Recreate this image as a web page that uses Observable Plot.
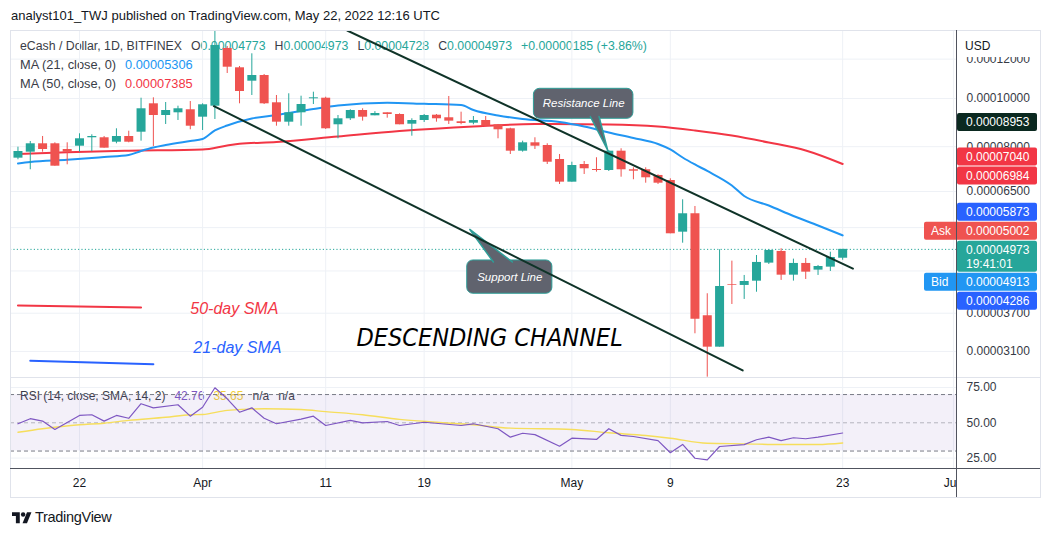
<!DOCTYPE html>
<html><head><meta charset="utf-8">
<script src="https://cdn.jsdelivr.net/npm/d3@7"></script>
<script src="https://cdn.jsdelivr.net/npm/@observablehq/plot@0.6"></script>
<style>
body{margin:0;background:#fff;font-family:"Liberation Sans",Arial,sans-serif;}
#wrap{position:relative;width:1052px;height:536px;overflow:hidden;background:#fff;}
.abs{position:absolute;}
.lg{position:absolute;left:20px;font-size:12.3px;line-height:16px;color:#3a3d47;white-space:nowrap;}
.lg span{margin-left:9px;}
.lg span.n{margin-left:0;}
.t{color:#26a69a;}
.line{position:absolute;}
</style></head><body><div id="wrap">
<div class="abs" style="left:11px;top:8px;font-size:13px;color:#131722;white-space:nowrap;">analyst101_TWJ published on TradingView.com, May 22, 2022 12:16 UTC</div>
<div class="lg" style="top:38px;"><span class="n">eCash / Dollar, 1D, BITFINEX</span><span>O</span><span class="n t">0.00004773</span><span>H</span><span class="n t">0.00004973</span><span>L</span><span class="n t">0.00004728</span><span>C</span><span class="n t">0.00004973</span><span class="t">+0.00000185 (+3.86%)</span></div>
<div class="lg" style="top:57px;font-size:12.8px;"><span class="n">MA (21, close, 0)</span><span style="color:#2196f3">0.00005306</span></div>
<div class="lg" style="top:76px;font-size:12.8px;"><span class="n">MA (50, close, 0)</span><span style="color:#f23645">0.00007385</span></div>
<div class="lg" style="top:388px;font-size:12px;"><span class="n">RSI (14, close, SMA, 14, 2)</span><span style="color:#7e57c2">42.76</span><span style="color:#f2cf3a">35.65</span><span>n/a</span><span>n/a</span></div>
<div id="main" class="abs" style="left:0;top:30px;"></div>
<div id="rsi" class="abs" style="left:0;top:378px;"></div>
<div id="taxis" class="abs" style="left:0;top:468px;width:957px;height:29px;overflow:hidden;"></div>
<div class="line" style="left:10px;top:30px;width:1029px;height:466px;border:1px solid #e0e3eb;"></div>
<div class="line" style="left:10px;top:377px;width:1030px;height:1px;background:#e0e3eb;"></div>
<div class="line" style="left:10px;top:468px;width:1030px;height:1px;background:#50535e;"></div>
<div class="line" style="left:956px;top:30px;width:1px;height:467px;background:#50535e;"></div>
<div class="abs" style="left:958px;top:31px;width:80px;height:26px;background:#fff;font-size:12px;color:#131722;"><div style="padding:8px 0 0 7px;">USD</div></div>
<div class="abs" style="left:12px;top:509px;display:flex;align-items:center;color:#131722;">
<svg width="20" height="15" viewBox="0 0 36 27"><path d="M14 24H7V11H0V4h14z" fill="#131722"/><circle cx="20" cy="8" r="4" fill="#131722"/><path d="M27 24h-8l8-20h8z" fill="#131722"/></svg>
<span style="font-size:14.5px;margin-left:3px;letter-spacing:-0.3px;">TradingView</span></div>
</div>
<script>
// values in units of 1e-8 USD
const dates = ["2022-03-17","2022-03-18","2022-03-19","2022-03-20","2022-03-21","2022-03-22","2022-03-23","2022-03-24","2022-03-25","2022-03-26","2022-03-27","2022-03-28","2022-03-29","2022-03-30","2022-03-31","2022-04-01","2022-04-02","2022-04-03","2022-04-04","2022-04-05","2022-04-06","2022-04-07","2022-04-08","2022-04-09","2022-04-10","2022-04-11","2022-04-12","2022-04-13","2022-04-14","2022-04-15","2022-04-16","2022-04-17","2022-04-18","2022-04-19","2022-04-20","2022-04-21","2022-04-22","2022-04-23","2022-04-24","2022-04-25","2022-04-26","2022-04-27","2022-04-28","2022-04-29","2022-04-30","2022-05-01","2022-05-02","2022-05-03","2022-05-04","2022-05-05","2022-05-06","2022-05-07","2022-05-08","2022-05-09","2022-05-10","2022-05-11","2022-05-12","2022-05-13","2022-05-14","2022-05-15","2022-05-16","2022-05-17","2022-05-18","2022-05-19","2022-05-20","2022-05-21","2022-05-22","2022-05-23"];
const open  = [7586,7799,8108,8108,7897,8018,8337,8337,8168,8387,8555,9757,9243,9359,9491,9171,9650,12605,11527,10834,11123,9803,8961,9359,9986,10014,8854,9103,9460,9230,9359,9286,8878,9032,9256,9146,8978,8919,9032,8854,8691,7835,8145,8044,7540,6788,7367,7199,7165,7835,7189,7189,7002,6841,5385,5864,3657,3162,4222,4208,4292,4666,4925,4413,4659,4517,4580,4773];
const high  = [7982,8194,8387,8145,8145,8492,8453,8387,8691,8595,10014,10032,9816,9650,9861,9757,13900,12722,11597,12299,11175,10140,10220,10107,10296,10060,9243,9491,9535,9409,9359,9315,9103,9286,9286,10093,9386,9200,9200,8866,8715,8207,8337,8108,7716,7445,7470,7600,7861,7923,7255,7255,7025,6895,6256,6065,4049,4964,4709,4407,4834,4964,4987,4753,4768,4616,4908,4973];
const low   = [7530,7189,7799,7309,7357,7799,7824,7945,8108,8145,8207,8007,8866,9032,8651,8623,9074,11227,9757,10140,9725,8796,8796,8796,9725,8663,8298,9032,9004,9230,9129,8854,8399,8948,8961,8866,8854,8854,8796,8298,7716,7799,7897,7367,6716,6788,7034,7110,7132,6946,6864,6756,6716,5345,5117,3364,2752,3162,3853,3944,4078,4637,4307,4293,4326,4407,4489,4728];
const close = [7824,8108,7897,7309,7799,8298,8387,7945,8387,8168,9535,9243,9460,9535,8796,9713,12781,11559,10329,11123,9757,8961,9359,9725,10032,8691,9103,9460,9171,9329,9286,8854,9032,9243,9103,9004,8907,9032,8796,8651,7835,8145,8018,7445,6788,7333,7222,7165,7835,7189,7142,6927,6756,5345,5864,3599,3162,4187,4208,4286,4681,4948,4413,4659,4475,4594,4790,4973];

const ma21Dates = ["2022-03-17","2022-03-18","2022-03-21","2022-03-24","2022-03-26","2022-03-27","2022-03-28","2022-03-29","2022-03-31","2022-04-01","2022-04-02","2022-04-03","2022-04-05","2022-04-07","2022-04-10","2022-04-12","2022-04-16","2022-04-19","2022-04-22","2022-04-23","2022-04-25","2022-04-27","2022-04-30","2022-05-02","2022-05-04","2022-05-06","2022-05-08","2022-05-09","2022-05-10","2022-05-11","2022-05-12","2022-05-14","2022-05-15","2022-05-17","2022-05-19","2022-05-21","2022-05-23"];
const ma21 = [7401,7452,7530,7628,7698,7843,7971,8063,8215,8291,8623,8825,9116,9265,9526,9681,9803,9757,9703,9480,9243,9095,8969,8784,8543,8329,8100,7897,7610,7367,7149,6685,6368,6093,5804,5554,5306];
const ma50Dates = ["2022-03-17","2022-03-21","2022-03-26","2022-04-01","2022-04-03","2022-04-04","2022-04-07","2022-04-12","2022-04-17","2022-04-23","2022-04-28","2022-05-04","2022-05-08","2022-05-11","2022-05-14","2022-05-17","2022-05-20","2022-05-23"];
const ma50 = [7734,7799,7852,7897,8044,8108,8176,8387,8599,8784,8886,8866,8784,8623,8425,8157,7861,7385];

const rsiDates = ["2022-03-17","2022-03-18","2022-03-19","2022-03-20","2022-03-22","2022-03-23","2022-03-24","2022-03-25","2022-03-26","2022-03-27","2022-03-28","2022-03-30","2022-03-31","2022-04-01","2022-04-02","2022-04-03","2022-04-04","2022-04-05","2022-04-06","2022-04-07","2022-04-09","2022-04-10","2022-04-11","2022-04-13","2022-04-14","2022-04-16","2022-04-17","2022-04-19","2022-04-22","2022-04-23","2022-04-25","2022-04-26","2022-04-27","2022-04-28","2022-04-30","2022-05-01","2022-05-03","2022-05-04","2022-05-05","2022-05-06","2022-05-08","2022-05-09","2022-05-10","2022-05-11","2022-05-12","2022-05-13","2022-05-15","2022-05-16","2022-05-17","2022-05-18","2022-05-19","2022-05-20","2022-05-21","2022-05-23"];
const rsi = [49.3,52.9,51.2,45.3,55.2,55.7,51.2,55.2,53.2,63.5,60.6,62.8,54.7,61.0,74.8,67.0,57.5,60.6,53.2,49.3,52.6,54.7,48.1,51.7,50.0,50.9,48.1,50.4,48.1,49.3,45.8,39.8,42.6,41.6,33.4,39.1,38.2,45.8,41.1,40.3,37.4,28.8,34.7,24.9,23.8,33.2,34.5,38.0,39.8,37.4,39.4,38.7,39.8,42.76];
const rsiMaDates = ["2022-03-17","2022-03-19","2022-03-22","2022-03-24","2022-03-26","2022-03-29","2022-03-31","2022-04-01","2022-04-03","2022-04-06","2022-04-09","2022-04-11","2022-04-14","2022-04-17","2022-04-20","2022-04-23","2022-04-26","2022-05-01","2022-05-04","2022-05-07","2022-05-09","2022-05-12","2022-05-15","2022-05-18","2022-05-21","2022-05-23"];
const rsiMa = [43.3,45.8,48.6,49.7,51.7,53.9,55.7,55.9,58.8,59.9,59.4,57.9,55.7,52.4,50.4,48.6,46.2,45.3,42.9,41.0,39.1,35.5,35.1,34.6,34.6,35.65];

const priceTicks = [12000,10000,8000,6500,5500,4500,3700,3100];   // grid levels
const priceLabels = [12000,10000,8000,6500,3700,3100];            // levels whose labels are not hidden by tags
const rsiTicks = [75,50,25];
const rsiBand = [70,30];
const timeTicks = ["2022-03-22","2022-04-01","2022-04-11","2022-04-19","2022-05-01","2022-05-09","2022-05-23","2022-06-01"];
const timeLabels = ["22","Apr","11","19","May","9","23","Jun"];
const lastPrice = 4973;

// drawings (date, price) anchors
const resistanceLine = [["2022-04-12T18:00Z",13700],["2022-05-23T20:00Z",4548]];
const supportLine = [["2022-04-01T22:00Z",9650],["2022-05-14T21:00Z",2839]];
const sma50Stroke = [["2022-03-17",3835],["2022-03-27",3800]];
const sma21Stroke = [["2022-03-18",2969],["2022-03-28",2923]];
const labelTexts = ["50-day SMA","21-day SMA"];
const labelAnchors = [["2022-03-31",3773],["2022-03-31T06:00Z",3150]];
const channelText = "DESCENDING CHANNEL";
const channelAnchor = ["2022-04-13T12:00Z",3292];
const resBox = {x1:"2022-04-27T22:00Z", x2:"2022-05-06T00:00Z", y1:9103, y2:10459};
const resPointer = [["2022-05-02T12:00Z",9200],["2022-05-03T22:00Z",7861],["2022-05-03T05:00Z",9200]];
const resText = ["Resistance Line","2022-05-01T23:00Z",9757];
const supBox = {x1:"2022-04-22T12:00Z", x2:"2022-04-29T10:00Z", y1:4049, y2:4724};
const supPointer = [["2022-04-24T15:00Z",4690],["2022-04-22T17:00Z",5453],["2022-04-26T04:00Z",4690]];
const supText = ["Support Line","2022-04-25T23:00Z",4372];

// price-axis tags
const tagValues = [8953,7040,6984,5873,5002,4973,4913,4286];
const tagKinds  = ["","","","","Ask","last","Bid",""];
const tagColors = ["#0b2920","#f23645","#f23645","#2962ff","#ef5350","#26a69a","#2196f3","#2962ff"];
const countdown = "19:41:01";

const GREEN="#26a69a", RED="#ef5350", GRID="#eef1f6", FONT="Liberation Sans, Arial, sans-serif";
const fmt = v => (v*1e-8).toFixed(8);
const D = s => new Date(s.length===10 ? s+"T00:00Z" : s);
const xDomain = [D("2022-03-16T09:27Z"), D("2022-06-01T07:55Z")];
const tt = timeTicks.map(D);
const candles = dates.map((d,i)=>({date:D(d),o:open[i],h:high[i],l:low[i],c:close[i]}));
const ups = candles.filter(d=>d.c>=d.o), downs = candles.filter(d=>d.c<d.o);
const pts = (ds,vs)=>ds.map((d,i)=>({date:D(d),v:vs[i]}));
const pair = a => a.map(([d,v])=>({date:D(d),v}));

const main = Plot.plot({
  width:1052, height:348, marginLeft:10, marginRight:95, marginTop:0, marginBottom:0,
  style:{background:"none", fontFamily:FONT, overflow:"visible"},
  x:{type:"utc", domain:xDomain, axis:null},
  y:{type:"log", domain:[2735,13700], axis:null},
  marks:[
    Plot.ruleX(tt,{stroke:GRID}),
    Plot.ruleY(priceTicks,{stroke:GRID}),
    Plot.text(priceLabels,{y:d=>d, frameAnchor:"right", dx:9, textAnchor:"start", text:fmt, fontSize:12, fill:"#363a45"}),
    Plot.ruleY([lastPrice],{stroke:GREEN, strokeDasharray:"1.2,2.2"}),
    Plot.line(pts(ma50Dates,ma50),{x:"date",y:"v",stroke:"#f23645",strokeWidth:2,curve:"monotone-x",clip:true}),
    Plot.line(pts(ma21Dates,ma21),{x:"date",y:"v",stroke:"#2196f3",strokeWidth:2,curve:"monotone-x",clip:true}),
    Plot.ruleX(ups,{x:"date",y1:"l",y2:"h",stroke:GREEN,clip:true}),
    Plot.ruleX(downs,{x:"date",y1:"l",y2:"h",stroke:RED,clip:true}),
    Plot.ruleX(ups,{x:"date",y1:"o",y2:"c",stroke:GREEN,strokeWidth:9,clip:true}),
    Plot.ruleX(downs,{x:"date",y1:"o",y2:"c",stroke:RED,strokeWidth:9,clip:true}),
    Plot.line(pair(sma50Stroke),{x:"date",y:"v",stroke:"#f23645",strokeWidth:2}),
    Plot.line(pair(sma21Stroke),{x:"date",y:"v",stroke:"#2962ff",strokeWidth:2}),
    Plot.text([0],{x:()=>D(labelAnchors[0][0]),y:()=>labelAnchors[0][1],text:()=>labelTexts[0],textAnchor:"start",fill:"#f23645",fontSize:16,fontStyle:"italic"}),
    Plot.text([0],{x:()=>D(labelAnchors[1][0]),y:()=>labelAnchors[1][1],text:()=>labelTexts[1],textAnchor:"start",fill:"#2962ff",fontSize:16,fontStyle:"italic"}),
    Plot.text([0],{x:()=>D(channelAnchor[0]),y:()=>channelAnchor[1],text:()=>channelText,textAnchor:"start",fill:"#000",fontSize:25,fontStyle:"italic",fontFamily:"DejaVu Sans Condensed, DejaVu Sans, sans-serif"}),
    Plot.rect([resBox],{x1:d=>D(d.x1),x2:d=>D(d.x2),y1:"y1",y2:"y2",fill:"#60636e",stroke:"#2e9e98",rx:6}),
    Plot.line(pair(resPointer),{x:"date",y:"v",fill:"#60636e",stroke:"#2e9e98"}),
    Plot.text([0],{x:()=>D(resText[1]),y:()=>resText[2],text:()=>resText[0],fill:"#fff",fontSize:11.5,fontStyle:"italic"}),
    Plot.rect([supBox],{x1:d=>D(d.x1),x2:d=>D(d.x2),y1:"y1",y2:"y2",fill:"#60636e",stroke:"#2e9e98",rx:6}),
    Plot.line(pair(supPointer),{x:"date",y:"v",fill:"#60636e",stroke:"#2e9e98"}),
    Plot.text([0],{x:()=>D(supText[1]),y:()=>supText[2],text:()=>supText[0],fill:"#fff",fontSize:11.5,fontStyle:"italic"}),
    Plot.line(pair(resistanceLine),{x:"date",y:"v",stroke:"#0f3328",strokeWidth:2,clip:true}),
    Plot.line(pair(supportLine),{x:"date",y:"v",stroke:"#0f3328",strokeWidth:2,clip:true})
  ]
});
document.getElementById("main").appendChild(main);

// price tags on the axis, placed through the y scale
const ys = main.scale("y");
const tags = tagValues.map((v,i)=>({v, kind:tagKinds[i], color:tagColors[i], yc:ys.apply(v)}));
const anchor = tags.find(t=>t.kind==="last");
anchor.top = anchor.yc - 8; anchor.h = 31;
let lim = anchor.top;
tags.filter(t=>t!==anchor && t.v>anchor.v).sort((a,b)=>b.yc-a.yc).forEach(t=>{t.h=18; t.top=Math.min(t.yc-9, lim-1-t.h); lim=t.top;});
lim = anchor.top+anchor.h;
tags.filter(t=>t!==anchor && t.v<anchor.v).sort((a,b)=>a.yc-b.yc).forEach(t=>{t.h=18; t.top=Math.max(t.yc-9, lim+1); lim=t.top+t.h;});
const g = d3.select(main).append("g").attr("font-family",FONT).attr("font-size",12).attr("text-anchor","start");
tags.forEach(t=>{
  const x0 = t.kind==="Ask"||t.kind==="Bid" ? 924 : 957;
  g.append("rect").attr("x",x0).attr("y",t.top).attr("width",1037-x0).attr("height",t.h).attr("rx",2).attr("fill",t.color);
  if (x0<957) g.append("text").attr("x",931).attr("y",t.top+t.h/2).attr("dy","0.35em").attr("fill","#fff").text(t.kind);
  g.append("text").attr("x",966).attr("y",t.top+9).attr("dy","0.35em").attr("fill","#fff").text(fmt(t.v));
  if (t.kind==="last") g.append("text").attr("x",966).attr("y",t.top+23).attr("dy","0.35em").attr("fill","#fff").text(countdown);
});

const rsiPlot = Plot.plot({
  width:1052, height:90, marginLeft:10, marginRight:95, marginTop:0, marginBottom:0,
  style:{background:"none", fontFamily:FONT, overflow:"visible"},
  x:{type:"utc", domain:xDomain, axis:null},
  y:{domain:[17.63,81.37], axis:null},
  marks:[
    Plot.ruleX(tt,{stroke:GRID}),
    Plot.ruleY([75,25],{stroke:GRID}),
    Plot.rect([rsiBand],{y1:d=>d[0],y2:d=>d[1],fill:"#7e57c2",fillOpacity:0.09}),
    Plot.ruleY(rsiBand,{stroke:"#787b86",strokeDasharray:"4,3"}),
    Plot.ruleY([50],{stroke:"#787b86",strokeOpacity:0.5,strokeDasharray:"4,3"}),
    Plot.line(pts(rsiMaDates,rsiMa),{x:"date",y:"v",stroke:"#f6de5c",strokeWidth:1.4,curve:"monotone-x",clip:true}),
    Plot.line(pts(rsiDates,rsi),{x:"date",y:"v",stroke:"#7e57c2",strokeWidth:1.2,clip:true}),
    Plot.text(rsiTicks,{y:d=>d,frameAnchor:"right",dx:9,textAnchor:"start",text:d=>d.toFixed(2),fontSize:12,fill:"#363a45"})
  ]
});
document.getElementById("rsi").appendChild(rsiPlot);

const taxis = Plot.plot({
  width:957, height:29, marginLeft:10, marginRight:0, marginTop:0, marginBottom:0,
  style:{background:"none", fontFamily:FONT},
  x:{type:"utc", domain:xDomain, axis:null},
  marks:[ Plot.text(tt,{x:d=>d, text:(d,i)=>timeLabels[i], frameAnchor:"middle", fontSize:12, fill:"#131722"}) ]
});
document.getElementById("taxis").appendChild(taxis);
</script>
</body></html>
